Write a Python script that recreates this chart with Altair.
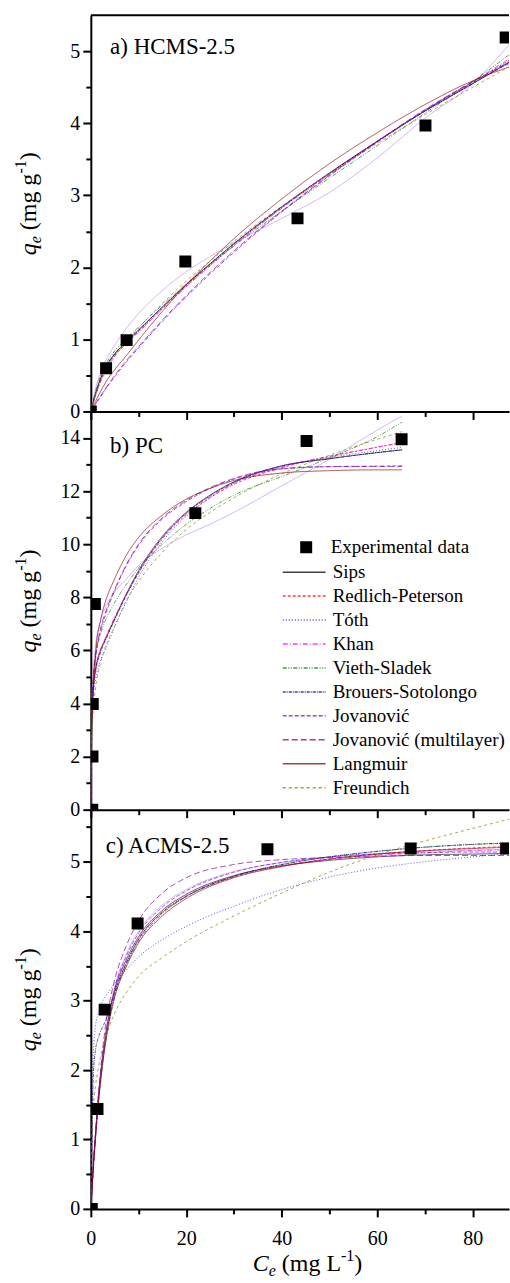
import altair as alt
import pandas as pd

SERIF = "Times New Roman, Liberation Serif, Times, serif"

MODELS = ["Sips", "Redlich-Peterson", "Tóth", "Khan", "Vieth-Sladek",
          "Brouers-Sotolongo", "Jovanović", "Jovanović (multilayer)",
          "Langmuir", "Freundich"]
COLORS = ["#000000", "#FF0000", "#0000FF", "#FF00FF", "#008000",
          "#000080", "#8000FF", "#800080", "#800000", "#808000"]
DASHES = [[1, 0], [3, 2], [1, 2], [5, 2, 1, 2], [4, 1.5, 1, 1.5, 1, 1.5],
          [3, 1, 1, 1], [4, 2], [6, 3], [1, 0], [3, 3]]
EXTRA_COLOR = "#C9A7F5"

X_DOMAIN = [0, 87.6]
X_TICKS = [0, 10, 20, 30, 40, 50, 60, 70, 80]

# ---------------- panel a) HCMS-2.5 ----------------
A_PTS_X = [0, 3.2, 7.5, 19.8, 43.3, 70.1, 86.9]
A_PTS_Y = [0, 0.60, 0.99, 2.08, 2.68, 3.97, 5.19]
A_X = [0, 1, 2, 3, 5, 7.5, 10, 15, 20, 25, 30, 40, 50, 60, 70, 80, 88]
A_SIPS = [0, 0.25, 0.45, 0.60, 0.80, 0.97, 1.13, 1.45, 1.76, 2.05, 2.33, 2.84, 3.31, 3.75, 4.17, 4.55, 4.86]
A_RP = [0, 0.23, 0.42, 0.57, 0.78, 0.95, 1.11, 1.43, 1.74, 2.03, 2.31, 2.83, 3.30, 3.75, 4.18, 4.57, 4.89]
A_TOTH = [0, 0.24, 0.44, 0.59, 0.79, 0.96, 1.12, 1.44, 1.75, 2.04, 2.32, 2.83, 3.30, 3.74, 4.17, 4.56, 4.88]
A_KHAN = [0, 0.22, 0.41, 0.56, 0.77, 0.94, 1.10, 1.42, 1.73, 2.02, 2.30, 2.82, 3.29, 3.74, 4.18, 4.58, 4.91]
A_VS = [0, 0.28, 0.49, 0.64, 0.84, 1.01, 1.17, 1.48, 1.77, 2.04, 2.30, 2.78, 3.24, 3.69, 4.14, 4.58, 4.97]
A_BS = [0, 0.25, 0.45, 0.60, 0.80, 0.97, 1.13, 1.45, 1.76, 2.05, 2.33, 2.84, 3.31, 3.75, 4.17, 4.55, 4.86]
A_JOV = [0, 0.10, 0.20, 0.30, 0.48, 0.69, 0.88, 1.25, 1.59, 1.91, 2.21, 2.77, 3.27, 3.74, 4.18, 4.57, 4.84]
A_JOVM = [0, 0.11, 0.21, 0.31, 0.50, 0.71, 0.90, 1.27, 1.61, 1.93, 2.23, 2.78, 3.28, 3.75, 4.19, 4.58, 4.86]
A_LANG = [0, 0.14, 0.27, 0.39, 0.58, 0.78, 0.99, 1.39, 1.76, 2.09, 2.40, 2.95, 3.44, 3.87, 4.26, 4.59, 4.79]
A_FREU = [0, 0.24, 0.40, 0.54, 0.76, 0.97, 1.16, 1.50, 1.81, 2.09, 2.36, 2.85, 3.30, 3.72, 4.12, 4.50, 4.80]
A_EXTRA = [0, 0.32, 0.53, 0.69, 0.92, 1.16, 1.36, 1.68, 1.94, 2.15, 2.34, 2.68, 3.04, 3.52, 4.07, 4.55, 5.12]

# ---------------- panel b) PC ----------------
B_PTS_X = [0.3, 0.35, 0.4, 0.85, 21.9, 45.2, 65.1]
B_PTS_Y = [0, 2.0, 3.98, 7.75, 11.17, 13.89, 13.95]
B_X = [0, 0.1, 0.25, 0.5, 1, 2, 3, 5, 7.5, 10, 15, 20, 25, 30, 40, 50, 60, 65.2]
B_SIPS = [0, 2.5, 3.8, 4.6, 5.3, 6.0, 6.4, 7.2, 8.15, 9.0, 10.3, 11.2, 11.85, 12.35, 12.95, 13.22, 13.45, 13.55]
B_RP = [0, 2.6, 3.7, 4.5, 5.3, 6.0, 6.4, 7.2, 8.1, 8.9, 10.2, 11.1, 11.75, 12.25, 12.88, 13.3, 13.65, 13.83]
B_TOTH = [0, 2.3, 3.4, 4.2, 4.9, 5.6, 6.0, 6.9, 7.85, 8.75, 10.1, 11.05, 11.75, 12.3, 12.93, 13.27, 13.52, 13.65]
B_KHAN = [0, 2.7, 3.8, 4.6, 5.3, 6.0, 6.45, 7.25, 8.15, 8.95, 10.25, 11.15, 11.8, 12.3, 12.9, 13.32, 13.66, 13.84]
B_VS = [0, 3.0, 4.2, 5.0, 5.8, 6.6, 7.1, 7.8, 8.5, 9.1, 10.0, 10.75, 11.35, 11.85, 12.55, 13.25, 14.05, 14.6]
B_BS = [0, 2.4, 3.7, 4.5, 5.2, 5.9, 6.35, 7.15, 8.1, 8.95, 10.25, 11.17, 11.83, 12.33, 12.95, 13.22, 13.45, 13.56]
B_JOV = [0, 2.7, 3.9, 4.8, 5.7, 6.7, 7.3, 8.25, 9.2, 9.95, 10.95, 11.6, 12.1, 12.45, 12.83, 12.92, 12.94, 12.95]
B_JOVM = [0, 2.8, 4.0, 4.9, 5.8, 6.8, 7.4, 8.3, 9.25, 10.0, 11.0, 11.65, 12.13, 12.48, 12.85, 12.92, 12.93, 12.93]
B_LANG = [0, 1.5, 3.0, 4.3, 5.9, 7.1, 7.8, 8.7, 9.6, 10.25, 11.1, 11.7, 12.1, 12.4, 12.68, 12.77, 12.8, 12.8]
B_FREU = [0, 2.2, 3.0, 3.7, 4.6, 5.5, 6.1, 6.9, 7.9, 8.6, 9.7, 10.55, 11.2, 11.75, 12.65, 13.35, 13.95, 14.24]
B_EXTRA = [0, 3.2, 4.3, 5.2, 6.2, 7.1, 7.6, 8.2, 8.7, 9.2, 9.85, 10.35, 10.75, 11.2, 12.2, 13.2, 14.3, 14.83]

# ---------------- panel c) ACMS-2.5 ----------------
C_PTS_X = [0.2, 1.4, 2.9, 9.8, 37.0, 67.0, 87.0]
C_PTS_Y = [0, 1.44, 2.87, 4.11, 5.18, 5.19, 5.19]
C_X = [0, 0.25, 0.5, 1, 1.5, 2, 3, 4, 5, 7.5, 10, 15, 20, 30, 40, 50, 60, 70, 80, 88]
C_SIPS = [0, 0.3, 0.6, 1.1, 1.55, 1.9, 2.45, 2.85, 3.15, 3.6, 3.92, 4.3, 4.53, 4.8, 4.94, 5.02, 5.07, 5.1, 5.11, 5.12]
C_RP = [0, 0.3, 0.6, 1.08, 1.5, 1.85, 2.4, 2.8, 3.1, 3.55, 3.88, 4.27, 4.5, 4.78, 4.94, 5.04, 5.11, 5.16, 5.2, 5.22]
C_TOTH = [0, 1.5, 2.2, 2.65, 2.8, 2.92, 3.05, 3.15, 3.25, 3.45, 3.63, 3.88, 4.07, 4.36, 4.6, 4.78, 4.91, 5.0, 5.07, 5.12]
C_KHAN = [0, 0.3, 0.6, 1.08, 1.5, 1.85, 2.4, 2.8, 3.1, 3.56, 3.89, 4.28, 4.51, 4.79, 4.94, 5.03, 5.09, 5.13, 5.16, 5.17]
C_VS = [0, 0.3, 0.58, 1.05, 1.45, 1.8, 2.35, 2.75, 3.05, 3.52, 3.85, 4.25, 4.5, 4.79, 4.96, 5.07, 5.15, 5.21, 5.25, 5.27]
C_BS = [0, 0.9, 1.9, 2.3, 2.45, 2.55, 2.7, 2.9, 3.12, 3.55, 3.88, 4.27, 4.5, 4.79, 4.96, 5.07, 5.15, 5.21, 5.25, 5.27]
C_JOV = [0, 0.28, 0.56, 1.05, 1.48, 1.84, 2.42, 2.85, 3.17, 3.65, 3.97, 4.35, 4.58, 4.85, 4.99, 5.07, 5.11, 5.13, 5.14, 5.14]
C_JOVM = [0, 0.3, 0.6, 1.1, 1.55, 1.95, 2.6, 3.0, 3.3, 3.8, 4.15, 4.55, 4.77, 4.96, 5.03, 5.06, 5.08, 5.09, 5.09, 5.09]
C_LANG = [0, 0.28, 0.55, 1.03, 1.45, 1.8, 2.35, 2.75, 3.05, 3.5, 3.83, 4.22, 4.47, 4.77, 4.93, 5.04, 5.11, 5.16, 5.19, 5.21]
C_FREU = [0, 1.2, 1.45, 1.78, 2.0, 2.18, 2.45, 2.65, 2.82, 3.12, 3.35, 3.62, 3.85, 4.22, 4.55, 4.85, 5.1, 5.3, 5.48, 5.62]
C_EXTRA = [0, 0.3, 0.6, 1.12, 1.58, 1.95, 2.5, 2.9, 3.2, 3.68, 4.0, 4.38, 4.6, 4.86, 4.99, 5.07, 5.12, 5.15, 5.17, 5.18]

PLOT_W = 419


def long_curves(xs, curves):
    rows = []
    for name, ys in zip(MODELS, curves):
        for x, y in zip(xs, ys):
            rows.append({"x": x, "y": y, "model": name})
    return pd.DataFrame(rows)


def title_pieces(pieces, x, y, angle):
    out = []
    for text, size, style, dx, dy in pieces:
        out.append(
            alt.Chart(pd.DataFrame({"t": [text]}))
            .mark_text(angle=angle, align="left", baseline="alphabetic", dx=dx, dy=dy,
                       font=SERIF, fontSize=size, fontStyle=style, color="black")
            .encode(x=alt.value(x), y=alt.value(y), text="t:N")
        )
    return out


def panel(pts_x, pts_y, xs, curves, extra, ydom, yvals, major_test, height,
          label, label_pos, legend, xlabels, top_border):
    xenc = alt.X("x:Q", scale=alt.Scale(domain=X_DOMAIN, nice=False, zero=False),
                 axis=alt.Axis(values=X_TICKS, title=None, labels=xlabels,
                               labelExpr="datum.value % 20 === 0 ? format(datum.value, 'd') : ''",
                               tickSize={"condition": {"test": "datum.value % 20 === 0", "value": 8}, "value": 5},
                               labelFont=SERIF, labelFontSize=20, labelColor="black",
                               labelPadding=12, labelFlush=False, labelOverlap=False))
    yenc = alt.Y("y:Q", scale=alt.Scale(domain=ydom, nice=False, zero=False),
                 axis=alt.Axis(values=yvals, title=None,
                               labelExpr="%s ? format(datum.value, 'd') : ''" % major_test,
                               tickSize={"condition": {"test": major_test, "value": 8}, "value": 5},
                               labelFont=SERIF, labelFontSize=20, labelColor="black",
                               labelPadding=3, labelFlush=False, labelOverlap=False))

    if legend:
        line_leg = alt.Legend(title=None, orient="none", legendX=191.3, legendY=149,
                              symbolType="stroke", symbolSize=1849, symbolStrokeWidth=1.5,
                              labelFont=SERIF, labelFontSize=19, labelColor="black",
                              labelOffset=6, clipHeight=24, rowPadding=0, padding=0,
                              labelLimit=400)
        pt_leg = alt.Legend(title=None, orient="none", legendX=206.3, legendY=124,
                            symbolType="square", symbolSize=144, symbolFillColor="black",
                            symbolStrokeColor="black", symbolOpacity=1,
                            labelFont=SERIF, labelFontSize=19, labelColor="black",
                            labelOffset=15, clipHeight=24, padding=0, labelLimit=400)
    else:
        line_leg = None
        pt_leg = None

    extra_df = pd.DataFrame({"x": xs, "y": extra})
    extra_layer = alt.Chart(extra_df).mark_line(
        color=EXTRA_COLOR, strokeWidth=1, clip=True, interpolate="monotone", opacity=0.8
    ).encode(x=xenc, y=yenc)

    lines_df = long_curves(xs, curves)
    line_layer = alt.Chart(lines_df).mark_line(
        strokeWidth=0.9, clip=True, interpolate="monotone", opacity=0.75
    ).encode(
        x=xenc, y=yenc,
        color=alt.Color("model:N", scale=alt.Scale(domain=MODELS, range=COLORS), legend=line_leg),
        strokeDash=alt.StrokeDash("model:N", scale=alt.Scale(domain=MODELS, range=DASHES), legend=line_leg),
    )

    pts_df = pd.DataFrame({"x": pts_x, "y": pts_y, "kind": ["Experimental data"] * len(pts_x)})
    pt_layer = alt.Chart(pts_df).mark_point(
        shape="square", filled=True, size=144, color="black", opacity=1, clip=True
    ).encode(
        x=xenc, y=yenc,
        shape=alt.Shape("kind:N", scale=alt.Scale(range=["square"]), legend=pt_leg),
    )

    lab = alt.Chart(pd.DataFrame({"t": [label]})).mark_text(
        align="left", baseline="alphabetic", font=SERIF, fontSize=23, color="black"
    ).encode(x=alt.value(label_pos[0]), y=alt.value(label_pos[1]), text="t:N")

    layers = [extra_layer, line_layer, pt_layer, lab]

    # y-axis title: q_e (mg g^-1)
    ypieces = [("q", 24, "italic", 0, 0), ("e", 16, "italic", 12, 5),
               ("(mg g", 24, "normal", 25.1, 0), ("-1", 16, "normal", 81.8, -10),
               (")", 24, "normal", 95.1, 0)]
    layers += title_pieces(ypieces, -54.5, height / 2 + 42, 270)

    if xlabels:
        xpieces = [("C", 24, "italic", 0, 0), ("e", 16, "italic", 16, 5),
                   ("(mg L", 24, "normal", 29.1, 0), ("-1", 16, "normal", 88.4, -10),
                   (")", 24, "normal", 101.7, 0)]
        layers += title_pieces(xpieces, 162.3, height + 62, 0)

    if top_border:
        layers.append(
            alt.Chart(pd.DataFrame({"a": [0]})).mark_rule(color="black", strokeWidth=2)
            .encode(x=alt.value(0), x2=alt.value(PLOT_W), y=alt.value(0))
        )

    return alt.layer(*layers).properties(width=PLOT_W, height=height)


A_TICKS = [i * 0.5 for i in range(11)]
C_TICKS = [i * 0.5 for i in range(12)]
pa = panel(A_PTS_X, A_PTS_Y, A_X,
           [A_SIPS, A_RP, A_TOTH, A_KHAN, A_VS, A_BS, A_JOV, A_JOVM, A_LANG, A_FREU],
           A_EXTRA, [0, 5.5], A_TICKS, "datum.value % 1 === 0", 397,
           "a) HCMS-2.5", (19.3, 39), False, False, True)
pb = panel(B_PTS_X, B_PTS_Y, B_X,
           [B_SIPS, B_RP, B_TOTH, B_KHAN, B_VS, B_BS, B_JOV, B_JOVM, B_LANG, B_FREU],
           B_EXTRA, [0, 15], list(range(15)), "datum.value % 2 === 0", 399,
           "b) PC", (19.3, 42), True, False, False)
pc = panel(C_PTS_X, C_PTS_Y, C_X,
           [C_SIPS, C_RP, C_TOTH, C_KHAN, C_VS, C_BS, C_JOV, C_JOVM, C_LANG, C_FREU],
           C_EXTRA, [0, 5.75], C_TICKS, "datum.value % 1 === 0", 400,
           "c) ACMS-2.5", (15, 43), False, True, False)

chart = (
    alt.vconcat(pa, pb, pc, spacing=0, bounds="flush")
    .resolve_scale(color="independent", strokeDash="independent", shape="independent")
    .properties(padding={"left": 13, "top": 13, "right": 0, "bottom": 0})
    .configure(font=SERIF)
    .configure_view(stroke=None)
    .configure_axis(domainColor="black", domainWidth=2, tickColor="black", tickWidth=2,
                    labelFont=SERIF, labelFontSize=20, labelColor="black", grid=False)
    .configure_legend(labelFont=SERIF, labelFontSize=19, labelColor="black")
)

chart.save("out.html", embed_options={"renderer": "svg", "actions": False})
